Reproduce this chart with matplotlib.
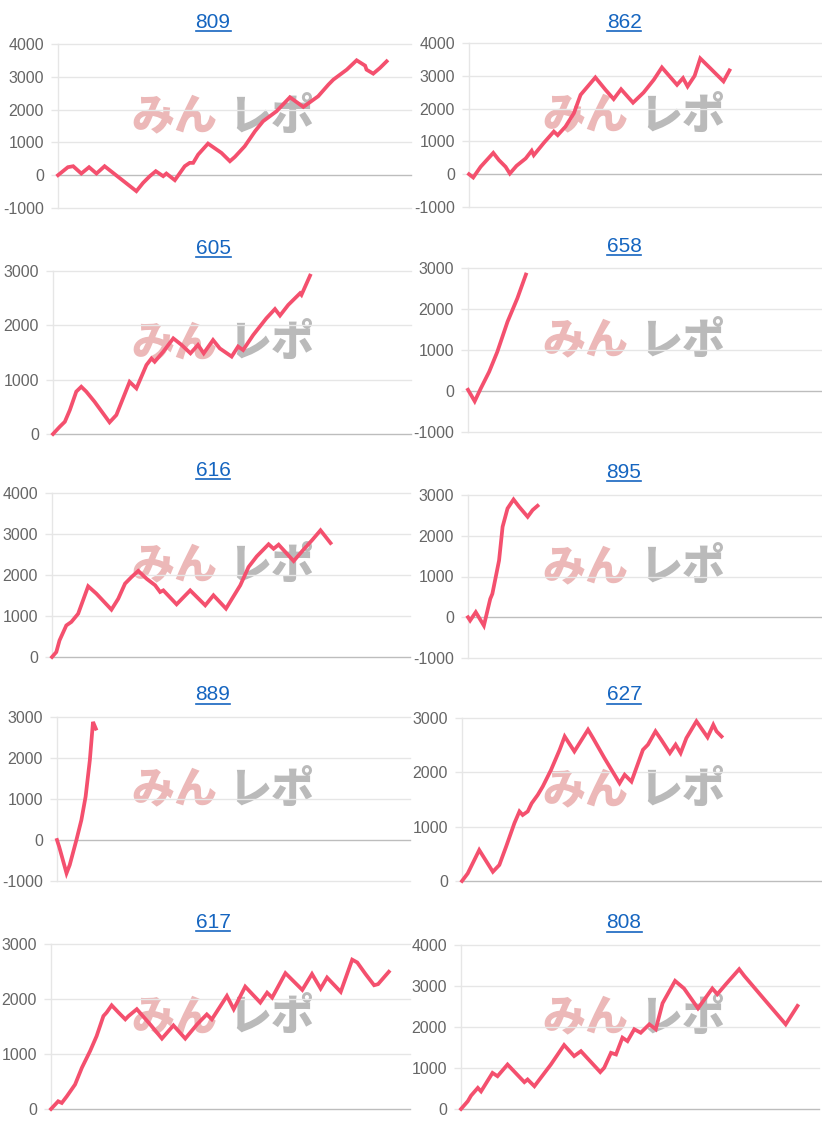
import matplotlib
matplotlib.use("Agg")
import matplotlib.pyplot as plt
from matplotlib.lines import Line2D

plt.rcParams['font.family'] = ['Liberation Sans', 'DejaVu Sans']

W, H = 822, 1125
LINE_COLOR = '#f4506e'
GRID_COLOR = '#e6e6e6'
ZERO_COLOR = '#bdbdbd'
TICK_COLOR = '#666666'
TITLE_COLOR = '#1565c0'

# machine numbers
names = ['809', '862', '605', '658', '616', '895', '889', '627', '617', '808']

# y axis ranges (min, max)
yranges = [(-1000, 4000), (-1000, 4000), (0, 3000), (-1000, 3000), (0, 4000),
           (-1000, 3000), (-1000, 3000), (0, 3000), (0, 3000), (0, 4000)]

# games played (x, percent of axis width) and coin difference (y)
x809 = [0, 2.8, 4.3, 6.6, 8.8, 10.9, 13.2, 15.6, 22.2, 24.1, 26.0, 27.7, 29.8, 30.7, 33.1,
        35.9, 37.3, 38.3, 39.7, 42.5, 46.3, 48.7, 50.1, 52.9, 55.8, 58.1, 61.9, 65.7, 69.5,
        73.7, 76.6, 78.0, 81.8, 84.6, 87.0, 87.4, 89.3, 91.2, 93.1]
y809 = [0, 244, 274, 51, 244, 51, 274, 71, -487, -234, -30, 122, -30, 51, -152,
        274, 376, 376, 629, 964, 680, 426, 558, 883, 1340, 1645, 1949, 2376, 2081,
        2406, 2761, 2914, 3218, 3503, 3340, 3218, 3096, 3269, 3472]

x862 = [0, 1.2, 3.3, 6.9, 8.5, 10.4, 11.6, 13.5, 16.1, 17.8, 18.4, 21.3, 24.1, 25.2, 27.4,
        29.8, 31.7, 35.9, 38.8, 41.1, 43.2, 46.6, 49.6, 52.5, 54.8, 59.1, 60.8, 62.1, 64.1,
        65.7, 68.5, 72.3, 74.0]
y862 = [0, -100, 225, 650, 430, 225, 20, 255, 480, 715, 580, 960, 1300, 1190, 1450,
        1860, 2420, 2950, 2570, 2290, 2590, 2180, 2490, 2880, 3255, 2725, 2930, 2675, 3000,
        3530, 3235, 2830, 3165]

x605 = [0, 1.9, 3.3, 4.7, 6.5, 7.9, 9.3, 11.6, 15.8, 17.7, 21.4, 23.3, 26.1, 27.5, 28.4,
        30.8, 33.6, 35.9, 38.4, 40.5, 42.1, 44.7, 46.6, 49.9, 51.7, 53.1, 55.9, 59.6, 62.0,
        63.4, 65.7, 69.0, 69.4, 71.8]
y605 = [0, 135, 225, 440, 780, 870, 780, 595, 215, 350, 960, 840, 1270, 1390, 1330,
        1515, 1760, 1640, 1485, 1640, 1485, 1730, 1575, 1425, 1610, 1545, 1820, 2130, 2300,
        2180, 2375, 2590, 2560, 2915]

x658 = [0, 1.9, 3.6, 6.0, 8.3, 11.2, 14.0, 16.4]
y658 = [30, -250, 60, 470, 955, 1690, 2265, 2840]

x616 = [0, 1.2, 2.1, 4.0, 5.4, 7.3, 10.1, 12.4, 16.6, 18.5, 20.4, 22.2, 24.1, 26.4, 28.8,
        30.2, 31.1, 34.8, 38.6, 42.8, 45.1, 48.6, 52.6, 54.9, 57.2, 60.5, 61.9, 63.3, 67.5,
        70.3, 72.6, 75.0, 77.8]
y616 = [0, 120, 405, 770, 855, 1055, 1725, 1545, 1155, 1420, 1790, 1950, 2100, 1910, 1750,
        1585, 1625, 1285, 1625, 1260, 1505, 1180, 1750, 2195, 2455, 2750, 2640, 2740, 2340,
        2625, 2845, 3090, 2780]

x895 = [0, 0.6, 2.2, 4.5, 6.3, 6.9, 8.8, 9.8, 11.2, 12.9, 14.5, 16.9, 18.3, 19.7]
y895 = [0, -80, 125, -205, 450, 575, 1395, 2220, 2670, 2890, 2710, 2465, 2630, 2735]

x889 = [0, 0.6, 2.7, 3.6, 5.5, 6.9, 8.1, 9.3, 10.2, 11.0]
y889 = [0, -160, -810, -610, 0, 485, 1055, 1945, 2880, 2715]

x627 = [0, 1.6, 4.8, 8.6, 10.4, 12.3, 14.6, 16.0, 16.9, 18.3, 19.4, 21.1, 22.5, 24.8, 27.2,
        28.6, 31.3, 35.1, 36.5, 39.7, 43.9, 45.3, 47.2, 50.4, 51.8, 53.9, 55.5, 57.9, 59.5,
        60.9, 62.5, 65.3, 68.4, 70.0, 70.9, 72.3]
y627 = [0, 140, 570, 170, 295, 635, 1065, 1280, 1215, 1280, 1430, 1585, 1740, 2045, 2415,
        2660, 2385, 2785, 2630, 2260, 1800, 1955, 1830, 2415, 2510, 2755, 2600, 2355, 2510,
        2355, 2630, 2940, 2645, 2875, 2755, 2660]

x617 = [0, 2.0, 3.0, 4.4, 6.7, 8.6, 10.9, 12.7, 14.6, 15.5, 16.9, 18.8, 20.7, 21.6, 23.9,
        27.6, 30.9, 34.1, 37.4, 40.7, 43.4, 44.8, 49.0, 50.9, 54.1, 58.3, 60.2, 61.6, 65.3,
        70.0, 72.7, 75.1, 76.9, 80.7, 83.9, 85.3, 87.6, 90.0, 91.1, 94.1]
y617 = [0, 140, 110, 230, 445, 750, 1055, 1325, 1690, 1755, 1885, 1755, 1630, 1690, 1815,
        1540, 1280, 1520, 1280, 1540, 1720, 1630, 2055, 1815, 2225, 1935, 2115, 2025, 2470,
        2165, 2455, 2190, 2390, 2130, 2715, 2665, 2455, 2250, 2270, 2495]

x808 = [0, 1.9, 2.8, 4.7, 5.6, 8.8, 10.2, 13.0, 17.7, 18.6, 20.5, 25.1, 28.8, 31.6, 33.5,
        38.9, 40.0, 41.9, 43.3, 45.1, 46.5, 48.4, 50.2, 52.6, 54.4, 56.3, 59.8, 62.3, 66.2,
        70.2, 71.6, 74.0, 77.7, 79.1, 85.1, 90.7, 94.0]
y808 = [0, 190, 325, 515, 430, 880, 800, 1085, 655, 720, 555, 1085, 1560, 1290, 1410,
        900, 1005, 1370, 1330, 1740, 1655, 1945, 1860, 2065, 1945, 2580, 3125, 2940, 2455,
        2940, 2800, 3045, 3410, 3250, 2635, 2065, 2515]

xs = [x809, x862, x605, x658, x616, x895, x889, x627, x617, x808]
ys = [y809, y862, y605, y658, y616, y895, y889, y627, y617, y808]

# axes boxes in pixels: left, top, right, bottom
boxes = [(58, 44, 411, 208), (469, 43, 821, 207),
         (53, 271, 411, 434), (468, 268, 821, 432),
         (52, 493, 410, 657), (468, 495, 821, 658),
         (57, 717, 410, 881), (462, 718, 821, 881),
         (51, 944, 410, 1109), (461, 945, 819, 1109)]
title_y = [22, 22, 248, 246, 470, 472, 695, 695, 922, 923]

fig = plt.figure(figsize=(W / 100, H / 100), dpi=100)
fig.patch.set_facecolor('white')

titles = []
for i in range(10):
    l, t, r, b = boxes[i]
    ax = fig.add_axes([l / W, 1 - b / H, (r - l) / W, (b - t) / H])
    ymin, ymax = yranges[i]
    ax.set_xlim(0, 100)
    ax.set_ylim(ymin, ymax)
    ticks = list(range(ymin, ymax + 1, 1000))
    ax.set_yticks(ticks)
    ax.set_yticklabels([str(v) for v in ticks])
    ax.set_xticks([])
    for v in ticks:
        c = ZERO_COLOR if v == 0 else GRID_COLOR
        ax.axhline(v, color=c, lw=1.0, zorder=1, clip_on=False)
    for s in ['top', 'right', 'bottom']:
        ax.spines[s].set_visible(False)
    ax.spines['left'].set_color(GRID_COLOR)
    ax.spines['left'].set_linewidth(1.0)
    ax.tick_params(axis='y', length=5, width=1, color=GRID_COLOR, pad=5,
                   labelsize=11.5, labelcolor=TICK_COLOR)
    ax.patch.set_alpha(0)

    # watermark
    px0 = 0 if l < 411 else 411
    cy = (t + b) / 2 - 9
    yf = (b - cy) / (b - t)
    ax.text((px0 + 217 - l) / (r - l), yf, 'みん', transform=ax.transAxes,
            ha='right', va='center', fontsize=31, fontweight='heavy',
            family=['Noto Sans CJK JP'], color='#ecb8b8', zorder=0)
    ax.text((px0 + 228 - l) / (r - l), yf, 'レポ', transform=ax.transAxes,
            ha='left', va='center', fontsize=31, fontweight='heavy',
            family=['Noto Sans CJK JP'], color='#bababa', zorder=0)

    ax.plot(xs[i], ys[i], color=LINE_COLOR, lw=2.7, zorder=3,
            solid_joinstyle='miter', clip_on=False)

    tx = fig.text((px0 + 213) / W, 1 - title_y[i] / H, names[i], ha='center',
                  va='center', fontsize=15, color=TITLE_COLOR)
    titles.append(tx)

# underline the titles like links
fig.canvas.draw()
renderer = fig.canvas.get_renderer()
for tx in titles:
    bb = tx.get_window_extent(renderer)
    yy = bb.y0 + 1
    fig.add_artist(Line2D([bb.x0 / W, bb.x1 / W], [yy / H, yy / H],
                          transform=fig.transFigure, color=TITLE_COLOR, lw=1.2))

fig.savefig('out.png', dpi=100, facecolor='white')
